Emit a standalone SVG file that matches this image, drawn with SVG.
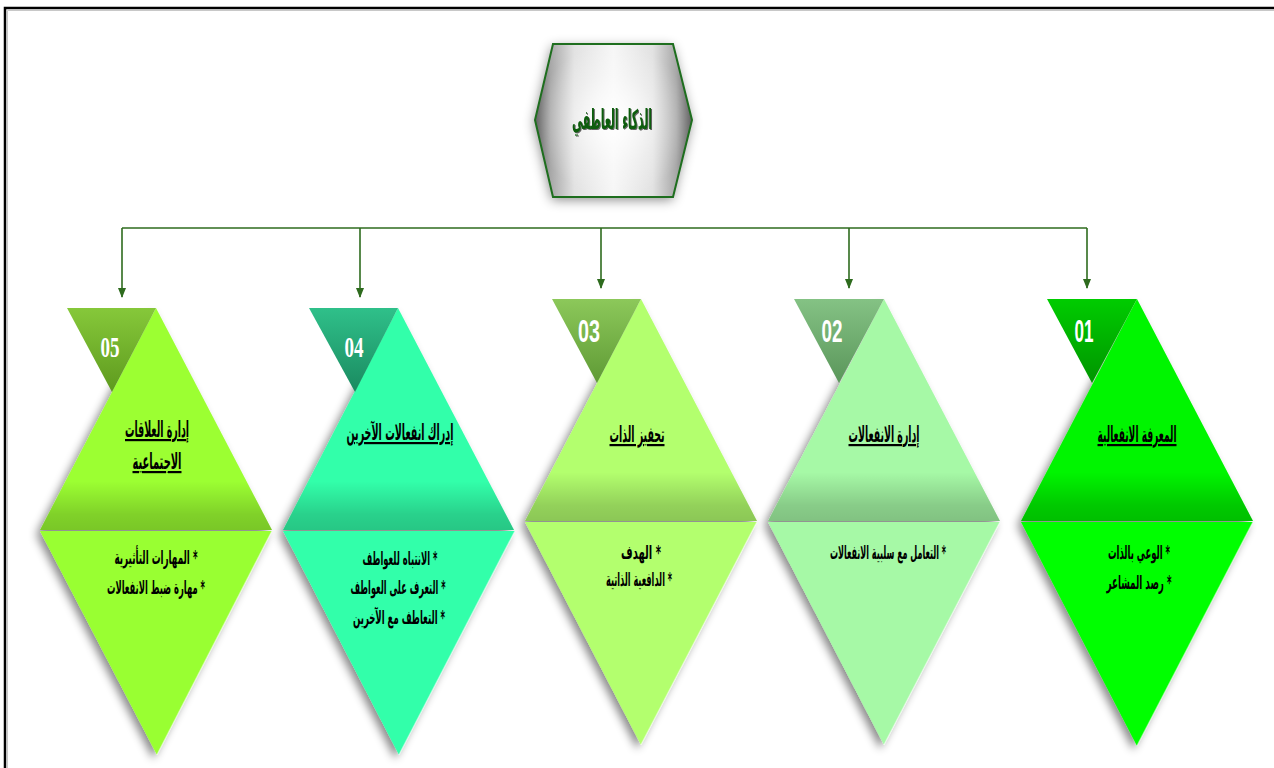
<svg xmlns="http://www.w3.org/2000/svg" width="1274" height="768" viewBox="0 0 1274 768">
<defs>
<style>
.ar{font-family:"DejaVu Sans",sans-serif;font-weight:bold;direction:rtl;text-anchor:middle;fill:#000}
.ttl{font-size:22px;text-decoration:underline}
.bul{font-size:19px}
.num{fill:#fff;font-weight:bold;text-anchor:middle}
.serif{font-family:"Liberation Serif",serif;font-size:30px}
.sans{font-family:"Liberation Sans",sans-serif;font-size:32px}
.conn{stroke:#2e6b1e;stroke-width:1.6;fill:none}
.hl{stroke:#ffffff;stroke-opacity:0.55;stroke-width:1.5}
.band{fill:url(#band)}
</style>
<filter id="sh" x="-20%" y="-20%" width="140%" height="140%">
<feDropShadow dx="-4" dy="4" stdDeviation="4" flood-color="#000" flood-opacity="0.45"/>
</filter>
<filter id="hexsh" x="-20%" y="-20%" width="140%" height="140%">
<feDropShadow dx="-1" dy="3" stdDeviation="6" flood-color="#000" flood-opacity="0.45"/>
</filter>
<filter id="txtsh" x="-10%" y="-20%" width="120%" height="140%">
<feDropShadow dx="1" dy="1" stdDeviation="0.6" flood-color="#222" flood-opacity="0.7"/>
</filter>
<linearGradient id="hexg" x1="0" y1="0" x2="1" y2="0">
<stop offset="0" stop-color="#5e5e5e"/>
<stop offset="0.1" stop-color="#a8a8a8"/>
<stop offset="0.25" stop-color="#e2e2e2"/>
<stop offset="0.5" stop-color="#f6f6f6"/>
<stop offset="0.75" stop-color="#e2e2e2"/>
<stop offset="0.9" stop-color="#a8a8a8"/>
<stop offset="1" stop-color="#5e5e5e"/>
</linearGradient>
<radialGradient id="hexr" cx="50%" cy="50%" r="50%">
<stop offset="0" stop-color="#ffffff" stop-opacity="1"/>
<stop offset="0.6" stop-color="#ffffff" stop-opacity="0.3"/>
<stop offset="1" stop-color="#ffffff" stop-opacity="0"/>
</radialGradient>
<linearGradient id="band" x1="0" y1="0" x2="0" y2="1">
<stop offset="0" stop-color="#000" stop-opacity="0"/>
<stop offset="0.78" stop-color="#000" stop-opacity="0"/>
<stop offset="0.93" stop-color="#000" stop-opacity="0.18"/>
<stop offset="1" stop-color="#000" stop-opacity="0.22"/>
</linearGradient>
<linearGradient id="s5" x1="0" y1="0" x2="0" y2="1"><stop offset="0" stop-color="#86c83a"/><stop offset="1" stop-color="#5e9a1e"/></linearGradient>
<linearGradient id="s4" x1="0" y1="0" x2="0" y2="1"><stop offset="0" stop-color="#2fc08a"/><stop offset="1" stop-color="#1a8a60"/></linearGradient>
<linearGradient id="s3" x1="0" y1="0" x2="0" y2="1"><stop offset="0" stop-color="#8cc85a"/><stop offset="1" stop-color="#5f9a35"/></linearGradient>
<linearGradient id="s2" x1="0" y1="0" x2="0" y2="1"><stop offset="0" stop-color="#84c284"/><stop offset="1" stop-color="#5a965a"/></linearGradient>
<linearGradient id="s1" x1="0" y1="0" x2="0" y2="1"><stop offset="0" stop-color="#00cc00"/><stop offset="1" stop-color="#009500"/></linearGradient>
<marker id="arr" markerWidth="10" markerHeight="10" refX="9" refY="5" orient="auto" markerUnits="userSpaceOnUse">
<path d="M0,1 L10,5 L0,9 Z" fill="#2e6b1e"/>
</marker>
</defs>

<rect x="0" y="0" width="1274" height="768" fill="#ffffff"/>
<path d="M7.5,768 V10.5 H1274" stroke="#c8c8c8" stroke-width="1" fill="none"/>
<path d="M5,768 V8 H1274" stroke="#000" stroke-width="2.5" fill="none"/>

<g id="connectors">
<path class="conn" d="M122,228 H1087"/>
<path class="conn" d="M122,228 V297" marker-end="url(#arr)"/>
<path class="conn" d="M360,228 V297" marker-end="url(#arr)"/>
<path class="conn" d="M601,228 V288" marker-end="url(#arr)"/>
<path class="conn" d="M849,228 V288" marker-end="url(#arr)"/>
<path class="conn" d="M1087,228 V288" marker-end="url(#arr)"/>
</g>

<g id="root">
<path d="M553,44 L673,44 L692,120 L673,197 L553,197 L535,120 Z" fill="url(#hexg)" filter="url(#hexsh)"/>
<path d="M553,44 L673,44 L692,120 L673,197 L553,197 L535,120 Z" fill="url(#hexr)" stroke="#1e6e1e" stroke-width="2"/>
<text x="612" y="129" font-family="DejaVu Sans, sans-serif" font-weight="bold" font-size="27" text-anchor="middle" direction="rtl" fill="#0b5d0b" textLength="80" lengthAdjust="spacingAndGlyphs" filter="url(#txtsh)">الذكاء العاطفي</text>
</g>

<g id="node-05">
<g filter="url(#sh)">
<path d="M156,308 L272,530 L40,530 Z" fill="#9cff33"/>
<path d="M40,531 L272,531 L157,755 Z" fill="#99ff33"/>
</g>
<path class="band" d="M156,308 L272,530 L40,530 Z"/>
<path d="M67,308 L156,308 L112,392 Z" fill="url(#s5)"/>
<line class="hl" x1="272" y1="531" x2="157" y2="755"/>
<text class="num serif" x="110" y="357" textLength="19" lengthAdjust="spacingAndGlyphs">05</text>
<text class="ar ttl" x="157" y="437" textLength="64" lengthAdjust="spacingAndGlyphs">إدارة العلاقات</text>
<text class="ar ttl" x="157" y="469" textLength="49" lengthAdjust="spacingAndGlyphs">الاجتماعية</text>
<text class="ar bul" x="156" y="564" textLength="83" lengthAdjust="spacingAndGlyphs">* المهارات التأثيرية</text>
<text class="ar bul" x="156" y="594" textLength="98" lengthAdjust="spacingAndGlyphs">* مهارة ضبط الانفعالات</text>
</g>

<g id="node-04">
<g filter="url(#sh)">
<path d="M398,308 L514,530 L283,530 Z" fill="#33ffaa"/>
<path d="M283,531 L515,531 L399,755 Z" fill="#33ffaa"/>
</g>
<path class="band" d="M398,308 L514,530 L283,530 Z"/>
<path d="M309,308 L398,308 L355,392 Z" fill="url(#s4)"/>
<line class="hl" x1="515" y1="531" x2="399" y2="755"/>
<text class="num serif" x="354" y="357" textLength="19" lengthAdjust="spacingAndGlyphs">04</text>
<text class="ar ttl" x="400" y="440" textLength="107" lengthAdjust="spacingAndGlyphs">إدراك انفعالات الآخرين</text>
<text class="ar bul" x="400" y="565" textLength="75" lengthAdjust="spacingAndGlyphs">* الانتباه للعواطف</text>
<text class="ar bul" x="398" y="594" textLength="95" lengthAdjust="spacingAndGlyphs">* التعرف على العواطف</text>
<text class="ar bul" x="399" y="624" textLength="92" lengthAdjust="spacingAndGlyphs">* التعاطف مع الآخرين</text>
</g>

<g id="node-03">
<g filter="url(#sh)">
<path d="M641,299 L757,521 L525,521 Z" fill="#b3ff6e"/>
<path d="M525,522 L757,522 L641,745 Z" fill="#b3ff6e"/>
</g>
<path class="band" d="M641,299 L757,521 L525,521 Z"/>
<path d="M552,299 L641,299 L597,383 Z" fill="url(#s3)"/>
<line class="hl" x1="757" y1="522" x2="641" y2="745"/>
<text class="num sans" x="589" y="342" textLength="22" lengthAdjust="spacingAndGlyphs">03</text>
<text class="ar ttl" x="637" y="442" textLength="55" lengthAdjust="spacingAndGlyphs">تحفيز الذات</text>
<text class="ar bul" x="641" y="559" textLength="40" lengthAdjust="spacingAndGlyphs">* الهدف</text>
<text class="ar bul" x="639" y="586" textLength="66" lengthAdjust="spacingAndGlyphs">* الدافعية الذاتية</text>
</g>

<g id="node-02">
<g filter="url(#sh)">
<path d="M884,299 L1000,521 L768,521 Z" fill="#a6f9a6"/>
<path d="M768,522 L1000,522 L884,745 Z" fill="#a6f9a6"/>
</g>
<path class="band" d="M884,299 L1000,521 L768,521 Z"/>
<path d="M794,299 L884,299 L839,383 Z" fill="url(#s2)"/>
<line class="hl" x1="1000" y1="522" x2="884" y2="745"/>
<text class="num sans" x="832" y="342" textLength="21" lengthAdjust="spacingAndGlyphs">02</text>
<text class="ar ttl" x="884" y="442" textLength="71" lengthAdjust="spacingAndGlyphs">إدارة الانفعالات</text>
<text class="ar bul" x="888" y="559" textLength="116" lengthAdjust="spacingAndGlyphs">* التعامل مع سلبية الانفعالات</text>
</g>

<g id="node-01">
<g filter="url(#sh)">
<path d="M1137,299 L1253,521 L1021,521 Z" fill="#00f500"/>
<path d="M1021,522 L1253,522 L1137,746 Z" fill="#00ff00"/>
</g>
<path class="band" d="M1137,299 L1253,521 L1021,521 Z"/>
<path d="M1047,299 L1137,299 L1092,383 Z" fill="url(#s1)"/>
<line class="hl" x1="1253" y1="522" x2="1137" y2="746"/>
<text class="num sans" x="1084" y="342" textLength="19" lengthAdjust="spacingAndGlyphs">01</text>
<text class="ar ttl" x="1137" y="442" textLength="79" lengthAdjust="spacingAndGlyphs">المعرفة الانفعالية</text>
<text class="ar bul" x="1139" y="559" textLength="62" lengthAdjust="spacingAndGlyphs">* الوعي بالذات</text>
<text class="ar bul" x="1139" y="589" textLength="65" lengthAdjust="spacingAndGlyphs">* رصد المشاعر</text>
</g>
</svg>
